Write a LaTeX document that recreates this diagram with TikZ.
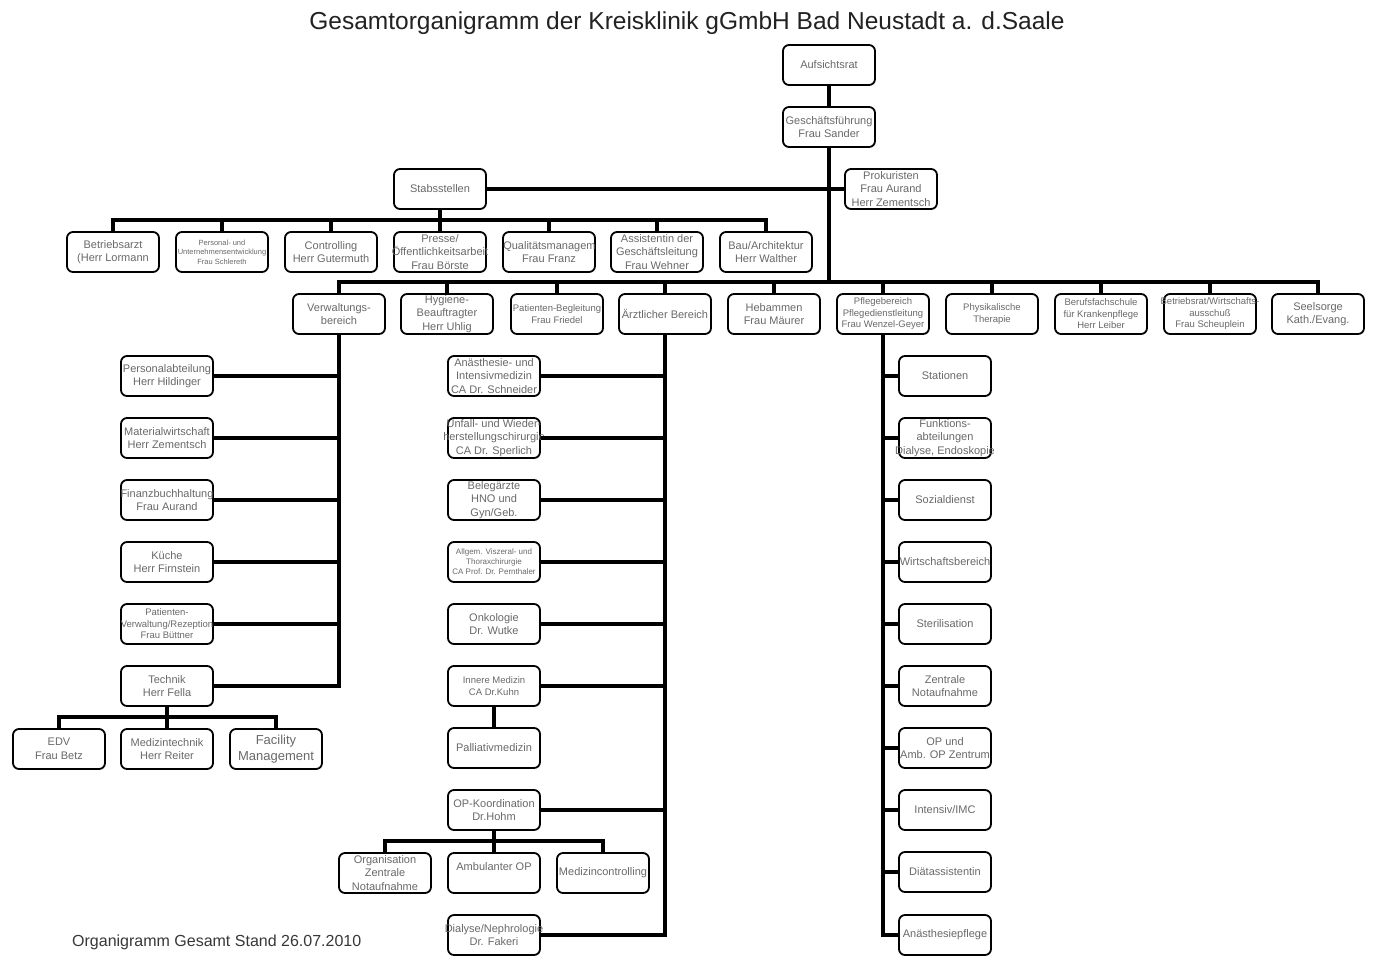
\documentclass[tikz,border=0pt]{standalone}
\usepackage{fontspec}
\setmainfont{Liberation Sans}
\definecolor{tgray}{RGB}{105,105,105}
\definecolor{ttitle}{RGB}{34,34,34}
\newcommand{\ov}[1]{\makebox[84pt][c]{#1}}
\tikzset{
  box/.style={draw=black, line width=1.8pt, rounded corners=6pt, minimum width=92pt,
    minimum height=40pt, inner sep=0pt, align=center, text=tgray,
    font=\fontsize{11}{13.5}\selectfont},
  sm/.style={font=\fontsize{9.5}{11.5}\selectfont},
  xs/.style={font=\fontsize{8}{10}\selectfont},
  xxs/.style={font=\fontsize{7.5}{9.5}\selectfont},
  lg/.style={font=\fontsize{13}{15.5}\selectfont},
  txt/.style={inner sep=0pt, text=tgray, font=\fontsize{11}{13.5}\selectfont},
  conn/.style={line width=4pt, draw=black},
}
\begin{document}
\begin{tikzpicture}[x=1pt,y=-1pt]
\useasboundingbox (0,0) rectangle (1375,956);
\fill[white] (0,0) rectangle (1375,956);

\node[font=\fontsize{24.5}{28}\selectfont, text=ttitle, anchor=base, inner sep=0pt] (title) at (687,29)
  {Gesamtorganigramm der Kreisklinik gGmbH Bad Neustadt a. d.Saale};
\node[font=\fontsize{16}{19}\selectfont, text=ttitle!90!white, anchor=base west, inner sep=0pt] (foot) at (72,946)
  {Organigramm Gesamt Stand 26.07.2010};

% top level
\node[box] (auf) at (829,65) {Aufsichtsrat};
\node[box] (gf) at (829,127) {Geschäftsführung\\Frau Sander};
\node[box] (stab) at (440,189) {Stabsstellen};
\node[box] (prok) at (891,189) {Prokuristen\\Frau Aurand\\Herr Zementsch};

% Stabsstellen row
\node[box] (s1) at (113,252) {Betriebsarzt\\(Herr Lormann};
\node[box,xxs] (s2) at (222,252) {Personal- und\\\ov{Unternehmensentwicklung}\\Frau Schlereth};
\node[box] (s3) at (331,252) {Controlling\\Herr Gutermuth};
\node[box] (s4) at (440,252) {Presse/\\\ov{Öffentlichkeitsarbeit}\\Frau Börste};
\node[box] (s5) at (549,252) {};
\begin{scope}
  \clip (s5.south west) rectangle (s5.north east);
  \node[txt, anchor=base west] (s5a) at ([xshift=1pt]s5.west |- 0,249) {Qualitätsmanagement};
\end{scope}
\node[txt, anchor=base] (s5b) at (549,262.5) {Frau Franz};
\node[box] (s6) at (657,252) {Assistentin der\\Geschäftsleitung\\Frau Wehner};
\node[box] (s7) at (766,252) {Bau/Architektur\\Herr Walther};

% main row
\coordinate (bus) at (829,282);
\node[box] (r1) at (339,314) {Verwaltungs-\\bereich};
\node[box] (r2) at (447,314) {Hygiene-\\Beauftragter\\Herr Uhlig};
\node[box,sm] (r3) at (557,314) {\ov{Patienten-Begleitung}\\Frau Friedel};
\node[box] (r4) at (665,314) {Ärztlicher Bereich};
\node[box] (r5) at (774,314) {Hebammen\\Frau Mäurer};
\node[box,sm] (r6) at (883,314) {Pflegebereich\\\ov{Pflegedienstleitung}\\\ov{Frau Wenzel-Geyer}};
\node[box,sm] (r7) at (992,314) {Physikalische\\Therapie};
\node[box,sm] (r8) at (1101,314) {Berufsfachschule\\für Krankenpflege\\Herr Leiber};
\node[box,sm] (r9) at (1210,314) {\ov{Betriebsrat/Wirtschafts-}\\ausschuß\\Frau Scheuplein};
\node[box] (r10) at (1318,314) {Seelsorge\\Kath./Evang.};

% Verwaltungsbereich
\node[box] (v1) at (167,376) {\ov{Personalabteilung}\\Herr Hildinger};
\node[box] (v2) at (167,438) {\ov{Materialwirtschaft}\\Herr Zementsch};
\node[box] (v3) at (167,500) {\ov{Finanzbuchhaltung}\\Frau Aurand};
\node[box] (v4) at (167,562) {Küche\\Herr Firnstein};
\node[box,sm] (v5) at (167,624) {Patienten-\\\ov{Verwaltung/Rezeption}\\Frau Büttner};
\node[box] (v6) at (167,686) {Technik\\Herr Fella};
\node[box] (t1) at (59,749) {EDV\\Frau Betz};
\node[box] (t2) at (167,749) {Medizintechnik\\Herr Reiter};
\node[box,lg] (t3) at (276,749) {Facility\\Management};

% Aerztlicher Bereich
\node[box] (a1) at (494,376) {Anästhesie- und\\Intensivmedizin\\CA Dr. Schneider};
\node[box] (a2) at (494,438) {\ov{Unfall- und Wieder-}\\\ov{herstellungschirurgie}\\CA Dr. Sperlich};
\node[box] (a3) at (494,500) {Belegärzte\\HNO und\\Gyn/Geb.};
\node[box,xs] (a4) at (494,562) {Allgem. Viszeral- und\\Thoraxchirurgie\\CA Prof. Dr. Pernthaler};
\node[box] (a5) at (494,624) {Onkologie\\Dr. Wutke};
\node[box,sm] (a6) at (494,686) {Innere Medizin\\CA Dr.Kuhn};
\node[box] (a7) at (494,748) {Palliativmedizin};
\node[box] (a8) at (494,810) {OP-Koordination\\Dr.Hohm};
\node[box] (o1) at (385,873) {Organisation\\Zentrale\\Notaufnahme};
\node[box] (o2) at (494,873) {Ambulanter OP\\\phantom{X}};
\node[box] (o3) at (603,873) {\ov{Medizincontrolling}};
\node[box] (a9) at (494,935) {\ov{Dialyse/Nephrologie}\\Dr. Fakeri};

% Pflegebereich
\node[box] (p1) at (945,376) {Stationen};
\node[box] (p2) at (945,438) {Funktions-\\abteilungen\\\ov{Dialyse, Endoskopie}};
\node[box] (p3) at (945,500) {Sozialdienst};
\node[box] (p4) at (945,562) {\ov{Wirtschaftsbereich}};
\node[box] (p5) at (945,624) {Sterilisation};
\node[box] (p6) at (945,686) {Zentrale\\Notaufnahme};
\node[box] (p7) at (945,748) {OP und\\\ov{Amb. OP Zentrum}};
\node[box] (p8) at (945,810) {Intensiv/IMC};
\node[box] (p9) at (945,872) {Diätassistentin};
\node[box] (p10) at (945,935) {Anästhesiepflege};

% connectors
\draw[conn] (auf) -- (gf);
\draw[conn] (gf.south) -- (bus);
\draw[conn] (stab.east) -- (prok.west);
\coordinate (sbus) at (440,220);
\draw[conn] (stab.south) -- (sbus);
\draw[conn] (s1.north) -- (s1.north |- sbus) -- (s7.north |- sbus) -- (s7.north);
\foreach \n in {s2,s3,s4,s5,s6} \draw[conn] (\n.north) -- (\n.north |- sbus);

\draw[conn] (r1.north) -- (r1.north |- bus) -- (r10.north |- bus) -- (r10.north);
\foreach \n in {r2,r3,r4,r5,r6,r7,r8,r9} \draw[conn] (\n.north) -- (\n.north |- bus);

\draw[conn] (r1.south) |- (v6.east);
\foreach \n in {v1,v2,v3,v4,v5} \draw[conn] (\n.east) -- (\n.east -| r1.south);
\coordinate (tbus) at (167,717);
\draw[conn] (v6.south) -- (t2.north);
\draw[conn] (t1.north) -- (t1.north |- tbus) -- (t3.north |- tbus) -- (t3.north);

\draw[conn] (r4.south) |- (a9.east);
\foreach \n in {a1,a2,a3,a4,a5,a6,a8} \draw[conn] (\n.east) -- (\n.east -| r4.south);
\draw[conn] (a6) -- (a7);
\coordinate (obus) at (494,841);
\draw[conn] (a8.south) -- (o2.north);
\draw[conn] (o1.north) -- (o1.north |- obus) -- (o3.north |- obus) -- (o3.north);

\draw[conn] (r6.south) |- (p10.west);
\foreach \n in {p1,p2,p3,p4,p5,p6,p7,p8,p9} \draw[conn] (\n.west) -- (\n.west -| r6.south);
\end{tikzpicture}
\end{document}
